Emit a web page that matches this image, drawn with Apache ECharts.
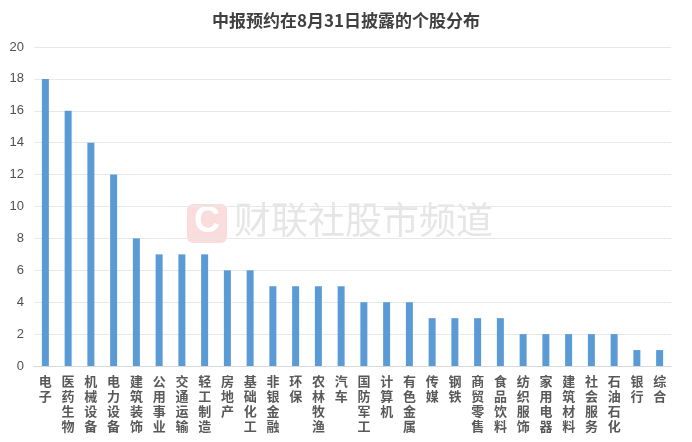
<!DOCTYPE html>
<html><head><meta charset="utf-8">
<script src="https://cdn.jsdelivr.net/npm/echarts@6/dist/echarts.min.js"></script>
<style>html,body{margin:0;padding:0;background:#fff}#c{width:692px;height:442px}</style>
</head><body><div id="c"></div>
<script>
const categories = ['电子','医药生物','机械设备','电力设备','建筑装饰','公用事业','交通运输','轻工制造','房地产','基础化工','非银金融','环保','农林牧渔','汽车','国防军工','计算机','有色金属','传媒','钢铁','商贸零售','食品饮料','纺织服饰','家用电器','建筑材料','社会服务','石油石化','银行','综合'];
const counts = [18,16,14,12,8,7,7,7,6,6,5,5,5,5,4,4,4,3,3,3,3,2,2,2,2,2,1,1];
const titleText = '中报预约在8月31日披露的个股分布';
const watermarkText = '财联社股市频道';

const chart = echarts.init(document.getElementById('c'));
chart.setOption({
  animation: false,
  backgroundColor: '#fff',
  title: {text: titleText, left: 'center', top: 7,
    textStyle: {fontSize: 17, fontWeight: 'bold', color: '#404040', fontFamily: 'Noto Sans CJK SC'}},
  grid: {left: 34, right: 21, top: 47, bottom: 76, containLabel: false},
  xAxis: {type: 'category', data: categories,
    axisLine: {lineStyle: {color: '#d9d9d9'}},
    axisTick: {show: false},
    axisLabel: {interval: 0, color: '#595959', fontSize: 13, lineHeight: 15, margin: 8,
      fontFamily: 'Noto Sans CJK SC', fontWeight: 'bold',
      formatter: v => v.split('').join('\n'), verticalAlign: 'top'}},
  yAxis: {type: 'value', min: 0, max: 20, interval: 2,
    axisLine: {show: false}, axisTick: {show: false},
    splitLine: {lineStyle: {color: '#e8e8e8'}},
    axisLabel: {color: '#505050', fontSize: 13, margin: 10, fontFamily: 'Liberation Sans'}},
  series: [{type: 'bar', data: counts, barWidth: 7, itemStyle: {color: '#5b9bd5'}}],
  graphic: [
    {type: 'rect', left: 187, top: 204, shape: {width: 40, height: 39, r: 6},
      style: {fill: '#fadcdc'}, z: -1},
    {type: 'text', left: 194, top: 204, style: {text: 'C', fontSize: 36, fontWeight: 'bold',
      fill: '#ffffff', fontFamily: 'Liberation Sans'}, z: -1},
    {type: 'text', left: 234, top: 201, style: {text: watermarkText, fontSize: 37,
      fill: '#e6e6e6', fontFamily: 'Noto Sans CJK SC'}, z: -1}
  ]
});
</script></body></html>
